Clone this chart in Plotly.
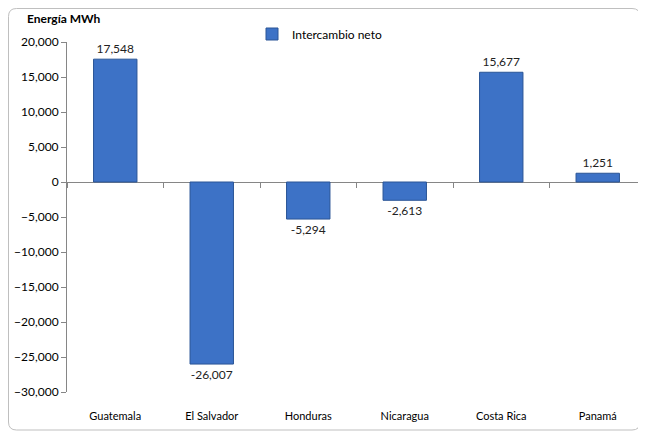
import plotly.graph_objects as go

categories = ["Guatemala", "El Salvador", "Honduras", "Nicaragua", "Costa Rica", "Panamá"]
values = [17548, -26007, -5294, -2613, 15677, 1251]
series_name = "Intercambio neto"
y_title = "Energía MWh"
tick_vals = [20000, 15000, 10000, 5000, 0, -5000, -10000, -15000, -20000, -25000, -30000]

OFF = 8  # page body margin
W, H = 646 - OFF, 435 - OFF
L, R, T, B = 67 - OFF, 0, 42 - OFF, 43
pw, ph = W - L - R, H - T - B

def px(x):  # reference-image pixel -> paper coords
    return (x - OFF - L) / pw

def py(y):
    return (H - B - (y - OFF)) / ph

font = "Lato, Arial"

fig = go.Figure()
fig.add_trace(go.Bar(
    x=categories, y=values, name=series_name,
    marker=dict(color="#3D72C6", line=dict(color="#2A5596", width=1)),
    width=0.45,
    text=[f"{v:,}" for v in values], textposition="outside",
    textfont=dict(size=12, color="#222"),
    cliponaxis=False,
    showlegend=True,
))
fig.add_trace(go.Scatter(x=categories, y=[0]*len(categories), xaxis="x2", yaxis="y",
                         mode="markers", marker=dict(opacity=0), showlegend=False, hoverinfo="skip"))

x0, y0, x1, y1, r = px(8.5), py(430), px(640), py(8.5), 8
rx, ry = r / pw, r / ph
path = (f"M {x0+rx},{y0} L {x1-rx},{y0} Q {x1},{y0} {x1},{y0+ry} L {x1},{y1-ry} "
        f"Q {x1},{y1} {x1-rx},{y1} L {x0+rx},{y1} Q {x0},{y1} {x0},{y1-ry} "
        f"L {x0},{y0+ry} Q {x0},{y0} {x0+rx},{y0} Z")
fig.add_shape(type="path", path=path, xref="paper", yref="paper",
              line=dict(color="#BFBFBF", width=1), layer="below")

fig.add_annotation(text=f"<b>{y_title}</b>", x=px(25), y=py(18), xref="paper", yref="paper",
                   xanchor="left", yanchor="middle", showarrow=False,
                   font=dict(size=12, color="#000", family=font))

fig.update_layout(
    width=W, height=H,
    margin=dict(l=L, r=R, t=T, b=B),
    paper_bgcolor="white", plot_bgcolor="white",
    font=dict(family=font, size=12, color="#000"),
    legend=dict(x=px(252), y=py(34), xanchor="left", yanchor="middle",
                font=dict(size=12), bgcolor="rgba(0,0,0,0)", itemwidth=30),
    yaxis=dict(range=[-30000, 20000], tickvals=tick_vals, tickformat=",",
               showgrid=False, zeroline=False, showline=True, linecolor="#868686",
               ticks="outside", ticklen=5, tickcolor="#868686", fixedrange=True,
               tickfont=dict(size=12)),
    xaxis=dict(showgrid=False, zeroline=False, showline=False, ticks="",
               ticklabelstandoff=16, tickfont=dict(size=11)),
    xaxis2=dict(overlaying="x", matches="x", anchor="free", position=py(182),
                side="bottom", showline=True, linecolor="#868686", ticks="outside",
                tickson="boundaries", ticklen=5, tickcolor="#868686",
                showticklabels=False, showgrid=False, zeroline=False,
                layer="below traces"),
)

fig.write_html("out.html")
